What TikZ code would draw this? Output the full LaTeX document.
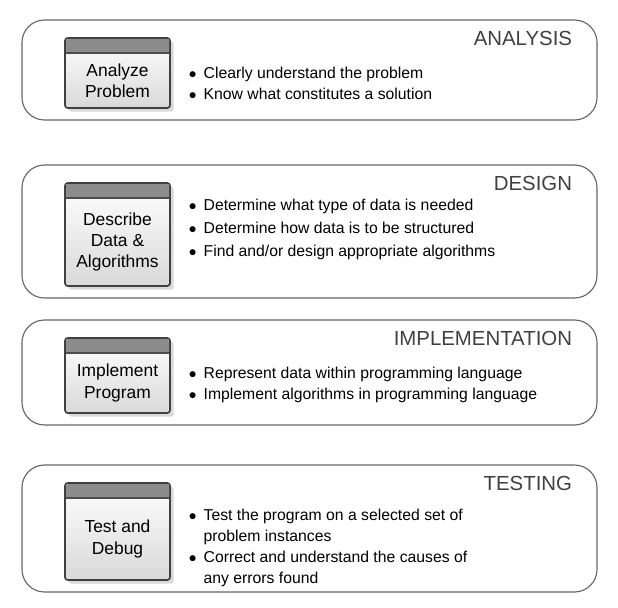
\documentclass[tikz,border=0pt]{standalone}
\usepackage{fontspec}
\setmainfont{Liberation Sans}
\usetikzlibrary{shadows}
\tikzset{every text node part/.style={align=center}}
\tikzset{
	panel/.style={draw=black!60, thick, rounded corners=16pt},
	stepcard/.style={draw=black!75, very thick, rounded corners=2pt, top color=white, bottom color=black!15, drop shadow={opacity=0.3}},
	cardband/.style={fill=black!45},
	heading/.style={anchor=north east, font=\fontsize{14.5}{16}\selectfont, text=black!75},
	bullets/.style={anchor=north west, every text node part/.style={align=left}, font=\fontsize{11.2}{15}\selectfont}
}
% #1 top, #2 bottom, #3 name, #4 card text, #5 heading
\newcommand{\stage}[5]{%
	\draw[panel] (22,#1) rectangle (597,#2);
	\draw[stepcard] (65,#1+18) rectangle (170,#2-12);
	\fill[cardband, rounded corners=1.5pt] (66,#1+19) rectangle (169,#1+33);
	\draw[black!70, thick] (66,#1+33) -- (169,#1+33);
	\node[font=\fontsize{12.4}{15}\selectfont] (#3card) at (117.5,{(#1+33+#2-12)/2}) {#4};
	\node[heading] (#3head) at (577,#1+6) {#5};
}

\begin{document}
\begin{tikzpicture}[x=0.025cm, y=-0.025cm]
	\useasboundingbox (0,0) rectangle (618,607);
	
	% Analysis
	\stage{20}{120}{an}{Analyze\\Problem}{ANALYSIS}
	\node[bullets] (anlist) at (184,62) {$\bullet$\, Clearly understand the problem\\$\bullet$\, Know what constitutes a solution};
	
	% Design
	\stage{165}{298}{de}{Describe\\Data \&\\Algorithms}{DESIGN}
	\node[bullets, font=\fontsize{11.2}{16.5}\selectfont] (delist) at (184,194) {$\bullet$\, Determine what type of data is needed\\$\bullet$\, Determine how data is to be structured\\$\bullet$\, Find and/or design appropriate algorithms};
	
	% Implementation
	\stage{320}{425}{im}{Implement\\Program}{IMPLEMENTATION}
	\node[bullets] (imlist) at (184,362) {$\bullet$\, Represent data within programming language\\$\bullet$\, Implement algorithms in programming language};
	
	% Testing
	\stage{465}{592}{te}{Test and\\Debug}{TESTING}
	\node[bullets] (telist) at (184,504) {$\bullet$\, Test the program on a selected set of\\\phantom{$\bullet$\,} problem instances\\$\bullet$\, Correct and understand the causes of\\\phantom{$\bullet$\,} any errors found};
\end{tikzpicture}
\end{document}
